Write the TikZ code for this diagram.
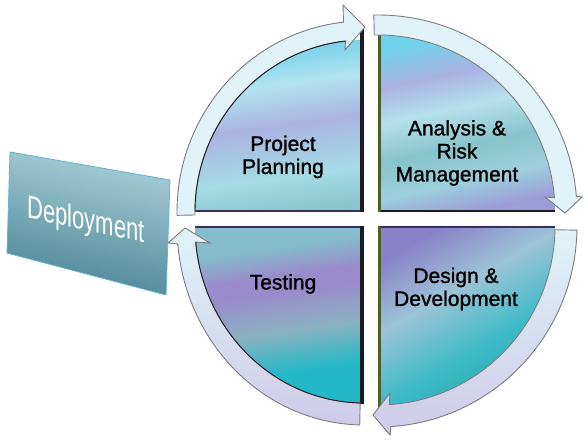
\documentclass[tikz,border=0pt]{standalone}
\usepackage{fontspec}
\usepackage{graphicx}
\setmainfont{Liberation Sans}
\newfontfamily\lblfont{Liberation Sans}[FakeBold=1.2]
\usetikzlibrary{calc}
\definecolor{tlA}{HTML}{8CC6CC}
\definecolor{tlB}{HTML}{A4DCE6}
\definecolor{tlC}{HTML}{AAB4E0}
\definecolor{tlD}{HTML}{B2E4EF}
\definecolor{tlE}{HTML}{66CCEB}
\definecolor{trA}{HTML}{9C9CD8}
\definecolor{trB}{HTML}{9CCFDC}
\definecolor{trC}{HTML}{88C4CC}
\definecolor{trD}{HTML}{B6E0EC}
\definecolor{trE}{HTML}{A8B2E2}
\definecolor{trF}{HTML}{72D2EC}
\definecolor{brA}{HTML}{2AA8A4}
\definecolor{brB}{HTML}{3CBAC8}
\definecolor{brC}{HTML}{9CC4D6}
\definecolor{brD}{HTML}{8A82C8}
\definecolor{blA}{HTML}{22B8C8}
\definecolor{blB}{HTML}{8AB2C0}
\definecolor{blC}{HTML}{9A8CCC}
\definecolor{blD}{HTML}{84BCCB}
\definecolor{bandlight}{HTML}{E0F3F8}
\definecolor{bandlav}{HTML}{CFCBE9}
\definecolor{bandline}{HTML}{7C7C84}
\definecolor{edgedark}{HTML}{1E1A22}
\definecolor{edgeolive}{HTML}{4E5E28}
\definecolor{edgepurple}{HTML}{3A2E5E}
\definecolor{depTop}{HTML}{A9CFD9}
\definecolor{depMid}{HTML}{5D99AA}
\definecolor{depBot}{HTML}{4A8495}
\definecolor{depLine}{HTML}{5CB4D6}
\pgfdeclareverticalshading{tlsh}{100bp}{color(0bp)=(tlA); color(25bp)=(tlA); color(35bp)=(tlB); color(50bp)=(tlC); color(62bp)=(tlD); color(75bp)=(tlE); color(100bp)=(tlE)}
\pgfdeclareverticalshading{trsh}{100bp}{color(0bp)=(trA); color(25bp)=(trA); color(34bp)=(trB); color(44bp)=(trC); color(55bp)=(trD); color(65bp)=(trE); color(75bp)=(trF); color(100bp)=(trF)}
\pgfdeclareverticalshading{brsh}{100bp}{color(0bp)=(brA); color(25bp)=(brA); color(40bp)=(brB); color(58bp)=(brC); color(75bp)=(brD); color(100bp)=(brD)}
\pgfdeclareverticalshading{blsh}{100bp}{color(0bp)=(blA); color(25bp)=(blA); color(33bp)=(blA); color(45bp)=(blB); color(56bp)=(blC); color(61bp)=(blC); color(69bp)=(blD); color(100bp)=(blD)}
\begin{document}
\begin{tikzpicture}[x=1pt,y=1pt,
  lbl/.style={font=\lblfont\fontsize{21}{23}\selectfont, align=center, text=black, inner sep=0pt},
  band/.style={draw=bandline, line width=0.9pt, line join=miter},
  arcline/.style={draw=edgedark, line width=0.9pt},
  vedge/.style={line width=4pt},
  hedge/.style={line width=2pt}]
\useasboundingbox (0,0) rectangle (588,441);
\coordinate (tl) at (364,229);
\coordinate (tr) at (378,229);
\coordinate (br) at (378,215);
\coordinate (bl) at (364,215);
% ---------- quadrant fills
\shade[shading=tlsh, shading angle=8] (tl) -- ($(tl)+(180:169 and 172)$) arc[start angle=180, end angle=90, x radius=169, y radius=172] -- cycle;
\shade[shading=trsh, shading angle=12] (tr) -- ($(tr)+(90:177 and 177)$) arc[start angle=90, end angle=0, x radius=177, y radius=177] -- cycle;
\shade[shading=brsh, shading angle=30] (br) -- ($(br)+(0:177 and 179)$) arc[start angle=0, end angle=-90, x radius=177, y radius=179] -- cycle;
\shade[shading=blsh, shading angle=8] (bl) -- ($(bl)+(-90:169 and 177)$) arc[start angle=-90, end angle=-180, x radius=169, y radius=177] -- cycle;
% ---------- straight edges
\draw[vedge, edgedark] ($(tl)+(-2,0)$) -- ($(tl)+(-2,186)$);
\draw[hedge, edgepurple] ($(tl)+(-169,1)$) -- ($(tl)+(-4,1)$);
\draw[line width=3pt, edgeolive] ($(tr)+(1.5,0)$) -- ($(tr)+(1.5,177)$);
\draw[hedge, edgedark] ($(tr)+(3,1)$) -- ($(tr)+(177,1)$);
\draw[line width=3pt, edgeolive] ($(br)+(1.5,0)$) -- ($(br)+(1.5,-185)$);
\draw[hedge, edgepurple] ($(br)+(3,-1)$) -- ($(br)+(177,-1)$);
\draw[vedge, edgedark] ($(bl)+(-2,0)$) -- ($(bl)+(-2,-178)$);
\draw[hedge, edgepurple] ($(bl)+(-169,-1)$) -- ($(bl)+(-4,-1)$);
% ---------- arrow bands
\path[band, fill=bandlight] ($(tl)+(181:187 and 191)$) arc[start angle=181, end angle=96.3, x radius=187, y radius=191]
  -- ($(tl)+(-21,207)$) -- ($(tl)+(1,185)$) -- ($(tl)+(-19,162)$)
  -- ($(tl)+(96.3:169 and 172)$) arc[start angle=96.3, end angle=181, x radius=169, y radius=172] -- cycle;
\draw[arcline] ($(tl)+(180:169 and 172)$) arc[start angle=180, end angle=96.3, x radius=169, y radius=172];
\path[band, fill=bandlight] ($(tr)+(91.2:199 and 197)$) arc[start angle=91.2, end angle=4.6, x radius=199, y radius=197]
  -- ($(tr)+(204,15)$) -- ($(tr)+(187,-1)$) -- ($(tr)+(167,15)$)
  -- ($(tr)+(4.6:177 and 177)$) arc[start angle=4.6, end angle=91.2, x radius=177, y radius=177] -- cycle;
\shade[band, top color=bandlight, bottom color=bandlav] ($(br)+(-1.2:199 and 201)$) arc[start angle=-1.2, end angle=-86.3, x radius=199, y radius=201]
  -- ($(br)+(12,-209)$) -- ($(br)+(-5,-189)$) -- ($(br)+(12,-167)$)
  -- ($(br)+(-86.3:177 and 179)$) arc[start angle=-86.3, end angle=-1.2, x radius=177, y radius=179] -- cycle;
\shade[band, top color=bandlight, bottom color=bandlav] ($(bl)+(-91.3:187 and 199)$) arc[start angle=-91.3, end angle=-174.8, x radius=187, y radius=199]
  -- ($(bl)+(-196,-17)$) -- ($(bl)+(-179,-2)$) -- ($(bl)+(-154,-17)$)
  -- ($(bl)+(-174.8:169 and 177)$) arc[start angle=-174.8, end angle=-91.3, x radius=169, y radius=177] -- cycle;
\draw[arcline] ($(bl)+(-174.8:169 and 177)$) arc[start angle=-174.8, end angle=-90, x radius=169, y radius=177];
% ---------- labels
\node[lbl] (pp) at (283,284) {Project\\Planning};
\node[lbl] (arm) at (457,288) {Analysis \&\\Risk\\Management};
\node[lbl] (dd) at (456,152) {Design \&\\Development};
\node[lbl] (te) at (283,157) {Testing};
% ---------- deployment box
\shade[top color=depTop, middle color=depMid, bottom color=depBot, shading angle=-12, draw=depLine, line width=0.8pt]
  (10,289) -- (170,261) -- (166,146) -- (7,188) -- cycle;
\node[yslant=-0.21, yscale=1.45, transform shape, text=white, font=\fontsize{22}{24}\selectfont, inner sep=0pt] (dep) at (86,219) {Deployment};
\end{tikzpicture}
\end{document}
